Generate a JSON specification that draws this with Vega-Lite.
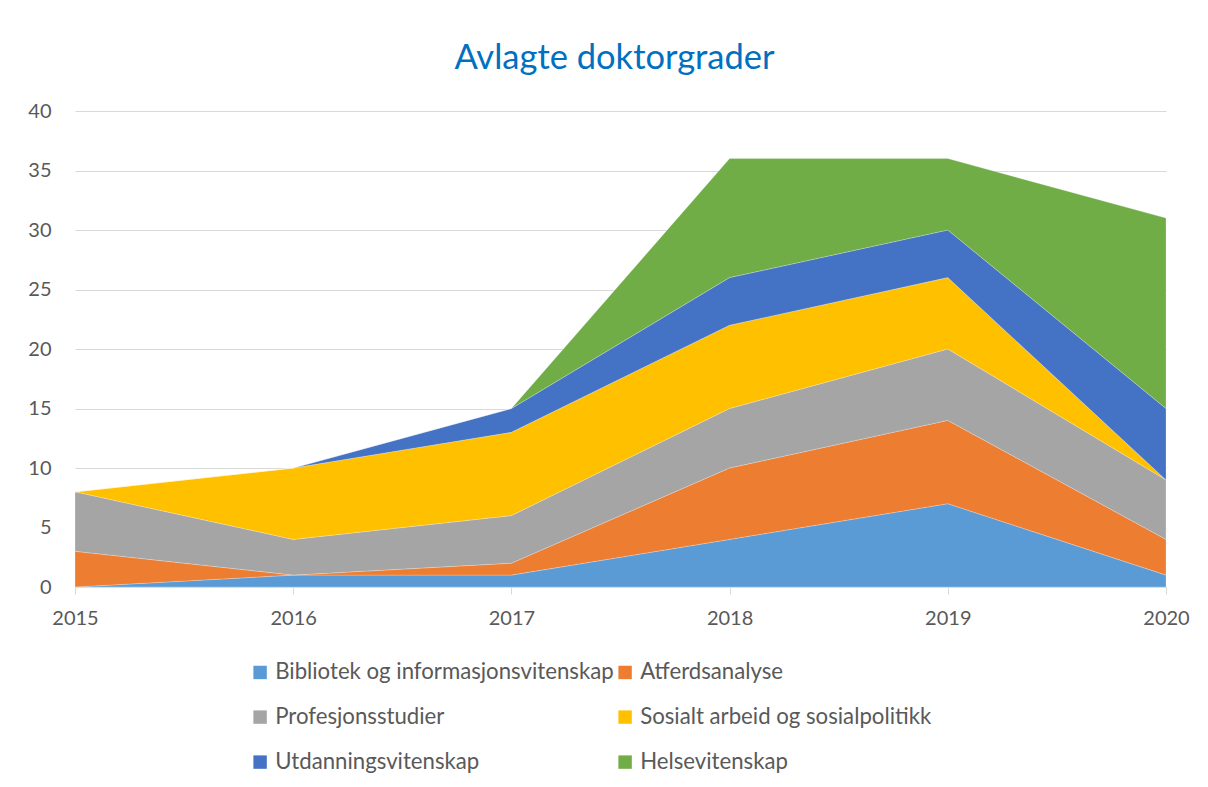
{
  "$schema": "https://vega.github.io/schema/vega-lite/v6.json",
  "autosize": {"type": "none"},
  "padding": {"left": 75, "top": 111, "right": 42, "bottom": 200},
  "width": 1091,
  "height": 476,
  "background": "#ffffff",
  "title": {
    "text": "Avlagte doktorgrader",
    "font": "Lato",
    "fontSize": 34.5,
    "fontWeight": "normal",
    "color": "#0070C0",
    "anchor": "middle",
    "dx": -6,
    "offset": 25
  },
  "data": {
    "values": [
      {"year": "2015", "field": "Bibliotek og informasjonsvitenskap", "value": 0},
      {"year": "2015", "field": "Atferdsanalyse", "value": 3},
      {"year": "2015", "field": "Profesjonsstudier", "value": 5},
      {"year": "2015", "field": "Sosialt arbeid og sosialpolitikk", "value": 0},
      {"year": "2015", "field": "Utdanningsvitenskap", "value": 0},
      {"year": "2015", "field": "Helsevitenskap", "value": 0},
      {"year": "2016", "field": "Bibliotek og informasjonsvitenskap", "value": 1},
      {"year": "2016", "field": "Atferdsanalyse", "value": 0},
      {"year": "2016", "field": "Profesjonsstudier", "value": 3},
      {"year": "2016", "field": "Sosialt arbeid og sosialpolitikk", "value": 6},
      {"year": "2016", "field": "Utdanningsvitenskap", "value": 0},
      {"year": "2016", "field": "Helsevitenskap", "value": 0},
      {"year": "2017", "field": "Bibliotek og informasjonsvitenskap", "value": 1},
      {"year": "2017", "field": "Atferdsanalyse", "value": 1},
      {"year": "2017", "field": "Profesjonsstudier", "value": 4},
      {"year": "2017", "field": "Sosialt arbeid og sosialpolitikk", "value": 7},
      {"year": "2017", "field": "Utdanningsvitenskap", "value": 2},
      {"year": "2017", "field": "Helsevitenskap", "value": 0},
      {"year": "2018", "field": "Bibliotek og informasjonsvitenskap", "value": 4},
      {"year": "2018", "field": "Atferdsanalyse", "value": 6},
      {"year": "2018", "field": "Profesjonsstudier", "value": 5},
      {"year": "2018", "field": "Sosialt arbeid og sosialpolitikk", "value": 7},
      {"year": "2018", "field": "Utdanningsvitenskap", "value": 4},
      {"year": "2018", "field": "Helsevitenskap", "value": 10},
      {"year": "2019", "field": "Bibliotek og informasjonsvitenskap", "value": 7},
      {"year": "2019", "field": "Atferdsanalyse", "value": 7},
      {"year": "2019", "field": "Profesjonsstudier", "value": 6},
      {"year": "2019", "field": "Sosialt arbeid og sosialpolitikk", "value": 6},
      {"year": "2019", "field": "Utdanningsvitenskap", "value": 4},
      {"year": "2019", "field": "Helsevitenskap", "value": 6},
      {"year": "2020", "field": "Bibliotek og informasjonsvitenskap", "value": 1},
      {"year": "2020", "field": "Atferdsanalyse", "value": 3},
      {"year": "2020", "field": "Profesjonsstudier", "value": 5},
      {"year": "2020", "field": "Sosialt arbeid og sosialpolitikk", "value": 0},
      {"year": "2020", "field": "Utdanningsvitenskap", "value": 6},
      {"year": "2020", "field": "Helsevitenskap", "value": 16}
    ]
  },
  "transform": [
    {"calculate": "indexof(['Bibliotek og informasjonsvitenskap','Atferdsanalyse','Profesjonsstudier','Sosialt arbeid og sosialpolitikk','Utdanningsvitenskap','Helsevitenskap'], datum.field)", "as": "rank"}
  ],
  "mark": {"type": "area", "stroke": "#ffffff", "strokeWidth": 0.4, "strokeOpacity": 0.6},
  "encoding": {
    "x": {
      "field": "year",
      "type": "ordinal",
      "scale": {"type": "point", "padding": 0},
      "axis": {
        "title": null,
        "labelAngle": 0,
        "grid": false,
        "domainColor": "#D9D9D9",
        "domainWidth": 1,
        "tickColor": "#D9D9D9",
        "tickSize": 7,
        "labelPadding": 14,
        "labelFont": "Lato",
        "labelFontSize": 20,
        "labelColor": "#595959"
      }
    },
    "y": {
      "field": "value",
      "type": "quantitative",
      "stack": "zero",
      "scale": {"domain": [0, 40], "nice": false},
      "axis": {
        "title": null,
        "values": [0, 5, 10, 15, 20, 25, 30, 35, 40],
        "domain": false,
        "ticks": false,
        "gridColor": "#D9D9D9",
        "gridWidth": 1,
        "labelPadding": 24,
        "labelFont": "Lato",
        "labelFontSize": 20,
        "labelColor": "#595959"
      }
    },
    "color": {
      "field": "field",
      "type": "nominal",
      "scale": {
        "domain": ["Bibliotek og informasjonsvitenskap", "Atferdsanalyse", "Profesjonsstudier", "Sosialt arbeid og sosialpolitikk", "Utdanningsvitenskap", "Helsevitenskap"],
        "range": ["#5B9BD5", "#ED7D31", "#A5A5A5", "#FFC000", "#4472C4", "#70AD47"]
      },
      "legend": {
        "title": null,
        "orient": "none",
        "direction": "horizontal",
        "legendX": 174,
        "legendY": 550,
        "columns": 2,
        "columnPadding": 0,
        "rowPadding": 22,
        "symbolType": "square",
        "symbolSize": 180,
        "symbolStrokeWidth": 0,
        "labelFont": "Lato",
        "labelFontSize": 22.2,
        "labelColor": "#595959",
        "labelOffset": 4,
        "labelLimit": 500
      }
    },
    "order": {"field": "rank", "type": "quantitative", "sort": "ascending"}
  },
  "config": {
    "view": {"stroke": null}
  }
}
